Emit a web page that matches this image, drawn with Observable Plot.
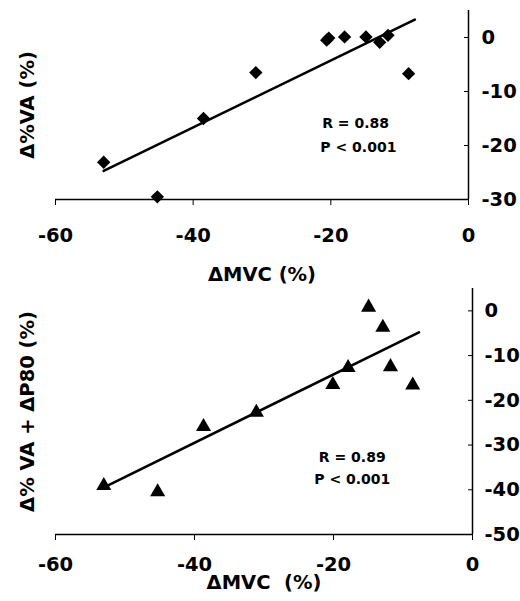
<!DOCTYPE html>
<html><head><meta charset="utf-8">
<script src="https://cdn.jsdelivr.net/npm/d3@7"></script>
<script src="https://cdn.jsdelivr.net/npm/@observablehq/plot@0.6"></script>
<style>
body{margin:0;background:#fff;}
#wrap{position:relative;width:520px;height:601px;background:#fff;}
#wrap svg{position:absolute;left:0;}
</style></head><body><div id="wrap"></div>
<script>
// ---- data ----
const xTicks = [-60, -40, -20, 0];
const yTicksTop = [0, -10, -20, -30];
const yTicksBottom = [0, -10, -20, -30, -40, -50];

// top panel: ΔMVC vs Δ%VA
const mvcTop = [-53.0, -45.2, -38.5, -30.9, -20.3, -20.6, -18.0, -14.9, -12.9, -11.7, -8.7];
const vaTop  = [-23.1, -29.5, -15.0, -6.5, -0.1, -0.5, 0.1, 0.1, -0.9, 0.4, -6.7];
const fitTopX = [-53.0, -7.8];
const fitTopY = [-24.7, 3.3];
const statsTop = ["R = 0.88", "P < 0.001"];
const statsTopX = [-16.4, -16.0];
const statsTopY = [-16.0, -20.3];

// bottom panel: ΔMVC vs Δ%VA + ΔP80
const mvcBottom = [-53.05, -45.3, -38.7, -31.1, -20.1, -17.9, -14.95, -12.9, -11.8, -8.6];
const vaP80Bottom = [-39.1, -40.5, -25.9, -22.7, -16.5, -12.7, 0.8, -3.7, -12.5, -16.6];
const fitBottomX = [-52.8, -7.7];
const fitBottomY = [-39.3, -4.8];
const statsBottom = ["R = 0.89", "P < 0.001"];
const statsBottomX = [-17.3, -17.3];
const statsBottomY = [-32.7, -37.6];

const font = "'DejaVu Sans', 'Liberation Sans', Arial, sans-serif";
const fmt = d => String(d);
const FS = 19.5;
const style = {fontFamily: font, fontSize: "19.5px", fontWeight: "bold", background: "transparent", overflow: "visible", color: "black"};

const topPts = mvcTop.map((x, i) => ({x, y: vaTop[i]}));
const topFit = fitTopX.map((x, i) => ({x, y: fitTopY[i]}));
const topStats = statsTop.map((t, i) => ({t, x: statsTopX[i], y: statsTopY[i]}));
const botPts = mvcBottom.map((x, i) => ({x, y: vaP80Bottom[i]}));
const botFit = fitBottomX.map((x, i) => ({x, y: fitBottomY[i]}));
const botStats = statsBottom.map((t, i) => ({t, x: statsBottomX[i], y: statsBottomY[i]}));

const topChart = Plot.plot({
  width: 520, height: 300,
  marginLeft: 55, marginRight: 52, marginTop: 10, marginBottom: 101,
  style,
  x: {domain: [-60, 0]},
  y: {domain: [-30, 5]},
  marks: [
    Plot.ruleY([-30], {strokeWidth: 1.5}),
    Plot.ruleX([0], {strokeWidth: 1.5}),
    Plot.axisX({ticks: xTicks, tickSize: 6, tickPadding: 23, tickFormat: fmt, label: null, fontSize: FS, fontWeight: "bold"}),
    Plot.axisY({anchor: "right", ticks: yTicksTop, tickSize: -5, tickPadding: 18, tickFormat: fmt, label: null, fontSize: FS, fontWeight: "bold"}),
    Plot.line(topFit, {x: "x", y: "y", strokeWidth: 2.6}),
    Plot.dot(topPts, {x: "x", y: "y", symbol: "diamond2", r: 6, fill: "black"}),
    Plot.text(topStats, {x: "x", y: "y", text: "t", fontSize: 14, fontWeight: "bold"}),
    Plot.text(["Δ%VA (%)"], {frameAnchor: "left", textAnchor: "middle", rotate: -90, dx: -28, fontSize: FS, fontWeight: "bold"}),
    Plot.text(["ΔMVC (%)"], {frameAnchor: "bottom", textAnchor: "middle", dy: 81, fontSize: FS, fontWeight: "bold"})
  ]
});
topChart.style.top = "0px";

const bottomChart = Plot.plot({
  width: 520, height: 321,
  marginLeft: 55, marginRight: 48, marginTop: 8, marginBottom: 67,
  style,
  x: {domain: [-60, 0]},
  y: {domain: [-50, 5]},
  marks: [
    Plot.ruleY([-50], {strokeWidth: 1.5}),
    Plot.ruleX([0], {strokeWidth: 1.5}),
    Plot.axisX({ticks: xTicks, tickSize: 6, tickPadding: 17, tickFormat: fmt, label: null, fontSize: FS, fontWeight: "bold"}),
    Plot.axisY({anchor: "right", ticks: yTicksBottom, tickSize: -5, tickPadding: 17, tickFormat: fmt, label: null, fontSize: FS, fontWeight: "bold"}),
    Plot.line(botFit, {x: "x", y: "y", strokeWidth: 2.6}),
    Plot.dot(botPts, {x: "x", y: "y", symbol: "triangle", r: 5.6, fill: "black"}),
    Plot.text(botStats, {x: "x", y: "y", text: "t", fontSize: 14, fontWeight: "bold"}),
    Plot.text(["Δ% VA + ΔP80 (%)"], {frameAnchor: "left", textAnchor: "middle", rotate: -90, dx: -28, fontSize: FS, fontWeight: "bold"}),
    Plot.text(["ΔMVC  (%)"], {frameAnchor: "bottom", textAnchor: "middle", dy: 54, fontSize: FS, fontWeight: "bold"})
  ]
});
bottomChart.style.top = "280px";

const wrap = document.getElementById("wrap");
wrap.appendChild(topChart);
wrap.appendChild(bottomChart);
</script>
</body></html>
